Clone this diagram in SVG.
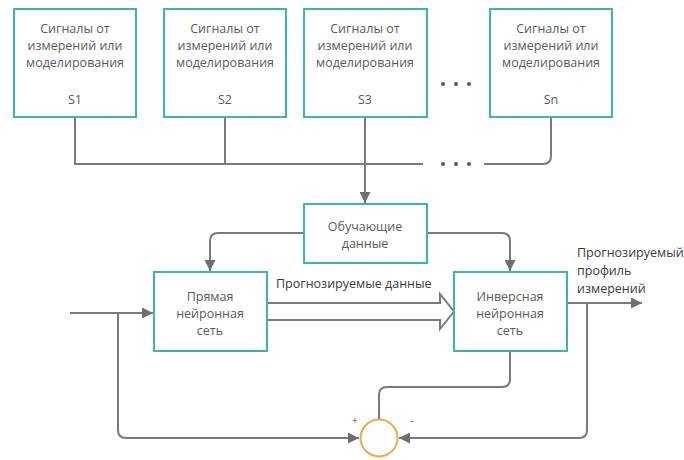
<svg xmlns="http://www.w3.org/2000/svg" width="684" height="460" viewBox="0 0 684 460">
  <style>
    .box { fill: #ffffff; stroke: #3fb3ad; stroke-width: 2; }
    .t { font-family: "Open Sans", "Liberation Sans", sans-serif; font-size: 12.5px; fill: #5a5a5a; text-anchor: middle; }
    .lbl { font-family: "Open Sans", "Liberation Sans", sans-serif; font-size: 12.5px; fill: #3a3a3a; }
    .ln { fill: none; stroke: #7a7a7a; stroke-width: 2; }
    .dot { fill: #555555; }
  </style>
  <defs>
    <marker id="arr" viewBox="0 0 10 10" refX="10" refY="5" markerWidth="5.5" markerHeight="5.5" orient="auto" markerUnits="strokeWidth">
      <path d="M0,0 L10,5 L0,10 z" fill="#6e6e6e"/>
    </marker>
  </defs>
  <rect width="684" height="460" fill="#ffffff"/>

  <!-- connectors -->
  <g id="connectors">
    <!-- signal bus -->
    <path class="ln" d="M75,117 V164 H423"/>
    <path class="ln" d="M225,117 V164"/>
    <path class="ln" d="M484,164 H543 Q551,164 551,156 V117"/>
    <path class="ln" d="M365,117 V203" marker-end="url(#arr)"/>
    <!-- training data to networks -->
    <path class="ln" d="M304,233 H218 Q210,233 210,241 V271" marker-end="url(#arr)"/>
    <path class="ln" d="M427,233 H502 Q510,233 510,241 V271" marker-end="url(#arr)"/>
    <!-- input -->
    <path class="ln" d="M70,313 H153" marker-end="url(#arr)"/>
    <path class="ln" d="M118,313 V430 Q118,438 126,438 H359" marker-end="url(#arr)"/>
    <!-- predicted data (hollow arrow) -->
    <path d="M268,303 H440 V294 L454,311.5 L440,329 V320 H268" fill="#ffffff" stroke="#7a7a7a" stroke-width="2" stroke-linejoin="miter"/>
    <!-- output -->
    <path class="ln" d="M568,303 H642" marker-end="url(#arr)"/>
    <path class="ln" d="M587,303 V430 Q587,438 579,438 H399" marker-end="url(#arr)"/>
    <!-- inverse net to comparator -->
    <path class="ln" d="M510,351 V379 Q510,387 502,387 H387 Q379,387 379,395 V420"/>
  </g>

  <!-- dots -->
  <g id="ellipsis">
    <circle class="dot" cx="443" cy="84" r="2"/>
    <circle class="dot" cx="456" cy="84" r="2"/>
    <circle class="dot" cx="469" cy="84" r="2"/>
    <circle class="dot" cx="443" cy="164" r="2"/>
    <circle class="dot" cx="456" cy="164" r="2"/>
    <circle class="dot" cx="469" cy="164" r="2"/>
  </g>

  <g id="s1">
    <rect class="box" x="14" y="9" width="122" height="108"/>
    <text class="t" x="75" y="33">Сигналы от</text>
    <text class="t" x="75" y="50">измерений или</text>
    <text class="t" x="75" y="67">моделирования</text>
    <text class="t" x="75" y="104">S1</text>
  </g>
  <g id="s2">
    <rect class="box" x="164" y="9" width="122" height="108"/>
    <text class="t" x="225" y="33">Сигналы от</text>
    <text class="t" x="225" y="50">измерений или</text>
    <text class="t" x="225" y="67">моделирования</text>
    <text class="t" x="225" y="104">S2</text>
  </g>
  <g id="s3">
    <rect class="box" x="304" y="9" width="123" height="108"/>
    <text class="t" x="365" y="33">Сигналы от</text>
    <text class="t" x="365" y="50">измерений или</text>
    <text class="t" x="365" y="67">моделирования</text>
    <text class="t" x="365" y="104">S3</text>
  </g>
  <g id="sn">
    <rect class="box" x="490" y="9" width="122" height="108"/>
    <text class="t" x="551" y="33">Сигналы от</text>
    <text class="t" x="551" y="50">измерений или</text>
    <text class="t" x="551" y="67">моделирования</text>
    <text class="t" x="551" y="104">Sn</text>
  </g>

  <g id="training">
    <rect class="box" x="304" y="204" width="123" height="59"/>
    <text class="t" x="365" y="231">Обучающие</text>
    <text class="t" x="365" y="248">данные</text>
  </g>

  <g id="forward-net">
    <rect class="box" x="154" y="272" width="113" height="79"/>
    <text class="t" x="210" y="301">Прямая</text>
    <text class="t" x="210" y="318">нейронная</text>
    <text class="t" x="210" y="335">сеть</text>
  </g>

  <g id="inverse-net">
    <rect class="box" x="454" y="272" width="113" height="79"/>
    <text class="t" x="510" y="301">Инверсная</text>
    <text class="t" x="510" y="318">нейронная</text>
    <text class="t" x="510" y="335">сеть</text>
  </g>

  <g id="comparator">
    <circle cx="379" cy="438" r="18.5" fill="#ffffff" stroke="#f0a850" stroke-width="2"/>
    <text class="t" x="355" y="424" style="font-size:11px">+</text>
    <text class="t" x="412" y="424" style="font-size:11px">-</text>
  </g>

  <g id="labels">
    <text class="lbl" x="276" y="288">Прогнозируемые данные</text>
    <text class="lbl" x="577" y="257">Прогнозируемый</text>
    <text class="lbl" x="577" y="275">профиль</text>
    <text class="lbl" x="577" y="293">измерений</text>
  </g>
</svg>
